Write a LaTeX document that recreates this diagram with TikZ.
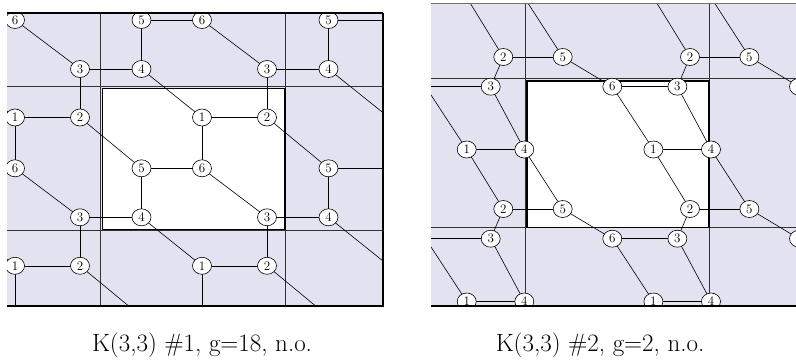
\documentclass[tikz,border=0pt]{standalone}
\usetikzlibrary{shapes.geometric}
\definecolor{lav}{RGB}{226,226,240}
\begin{document}
\begin{tikzpicture}[x=1pt,y=-1pt,
  vx/.style={ellipse,draw=black,fill=white,line width=0.6pt,minimum width=19pt,minimum height=17pt,inner sep=0pt,font=\fontsize{13}{13}\selectfont},
  kedge/.style={draw=black,line width=0.6pt},
  gridln/.style={draw=black!80,line width=0.7pt},
  fdom/.style={draw=black,line width=1.3pt},
  captxt/.style={font=\fontsize{25}{30}\selectfont,inner sep=0pt,anchor=base}]
\useasboundingbox (0,0) rectangle (796,362);

% ---------------- left panel ----------------
\fill[lav] (7,12.7) rectangle (383,306);
\fill[white] (102.5,88.5) rectangle (285,230);
\draw[gridln] (7,86.7) -- (383,86.7);
\draw[gridln] (7,230) -- (383,230);
\draw[gridln] (100.7,12.7) -- (100.7,306);
\draw[gridln] (285,12.7) -- (285,306);
\draw[fdom] (102.5,88.5) rectangle (285,229.5);

\foreach \i in {0,...,3}{\foreach \j in {0,...,3}{
  \pgfmathsetmacro\ox{15+187*(\i-1)}
  \pgfmathsetmacro\oy{20+148.3*(\j-1)}
  \coordinate (L\i\j6) at (\ox,\oy);
  \coordinate (L\i\j5) at (\ox+126.5,\oy);
  \coordinate (L\i\j3) at (\ox+65,\oy+49);
  \coordinate (L\i\j4) at (\ox+126.5,\oy+49);
  \coordinate (L\i\j1) at (\ox,\oy+97.5);
  \coordinate (L\i\j2) at (\ox+65,\oy+97.5);
}}

\begin{scope}
\clip (7,12.7) rectangle (383,306);
\foreach \i/\ni in {0/1,1/2,2/3}{\foreach \j/\nj in {0/1,1/2,2/3}{
  \draw[kedge] (L\i\j6) -- (L\i\j3);
  \draw[kedge] (L\i\j5) -- (L\ni\j6);
  \draw[kedge] (L\i\j5) -- (L\i\j4);
  \draw[kedge] (L\i\j3) -- (L\i\j4);
  \draw[kedge] (L\i\j3) -- (L\i\j2);
  \draw[kedge] (L\i\j1) -- (L\i\j2);
  \draw[kedge] (L\i\j1) -- (L\i\nj6);
  \draw[kedge] (L\i\j2) -- (L\i\nj5);
  \draw[kedge] (L\i\j4) -- (L\ni\j1);
}}
\foreach \i in {1,2}{\foreach \j in {1,2}{
  \foreach \k in {1,...,6}{\node[vx] (nL\i\j\k) at (L\i\j\k) {\k};}
}}
\end{scope}
\draw[line width=1.6pt] (7,12.7) -- (383,12.7);
\draw[line width=1.1pt] (383,12.7) -- (383,306) -- (7,306);

% ---------------- right panel ----------------
\fill[lav] (431,3.3) rectangle (796,306);
\fill[white] (527,81) rectangle (709,227.5);
\draw[gridln] (431,78.7) -- (796,78.7);
\draw[gridln] (431,227.7) -- (796,227.7);
\draw[gridln] (525.3,3.3) -- (525.3,306);
\draw[gridln] (709,3.3) -- (709,306);
\draw[fdom] (527,81) rectangle (709,227.5);

\foreach \i in {0,...,3}{\foreach \j in {0,...,3}{
  \pgfmathsetmacro\ox{503.3+186.7*(\i-1)}
  \pgfmathsetmacro\oy{57+152*(\j-1)}
  \coordinate (R\i\j2) at (\ox,\oy);
  \coordinate (R\i\j5) at (\ox+59.4,\oy);
  \coordinate (R\i\j3) at (\ox-12.6,\oy+29.7);
  \coordinate (R\i\j6) at (\ox+109,\oy+29.7);
  \coordinate (R\i\j1) at (\ox-36.6,\oy+92.5);
  \coordinate (R\i\j4) at (\ox+21,\oy+92.5);
}}

\begin{scope}
\clip (431,3.3) rectangle (796,306);
\foreach \i/\ni in {0/1,1/2,2/3}{\foreach \j/\nj in {0/1,1/2,2/3}{
  \draw[kedge] (R\i\j2) -- (R\i\j5);
  \draw[kedge] (R\i\j2) -- (R\i\j3);
  \draw[kedge] (R\i\j5) -- (R\i\j6);
  \draw[kedge] (R\i\j6) -- (R\ni\j3);
  \draw[kedge] (R\i\j3) -- (R\i\j4);
  \draw[kedge] (R\i\j1) -- (R\i\j4);
  \draw[kedge] (R\i\j6) -- (R\ni\j1);
  \draw[kedge] (R\i\j1) -- (R\i\nj2);
  \draw[kedge] (R\i\j4) -- (R\i\nj5);
}}
\foreach \i in {1,2}{\foreach \j in {1,2}{
  \foreach \k in {1,...,6}{\node[vx] (nR\i\j\k) at (R\i\j\k) {\k};}
}}
\end{scope}
\draw[black!55,line width=0.6pt] (431,3.3) -- (796,3.3);
\draw[line width=1.4pt] (431,306) -- (796,306);

% ---------------- captions ----------------
\node[captxt] (c1) at (202,351) {K(3,3) \#1, g=18, n.o.};
\node[captxt] (c2) at (600,351) {K(3,3) \#2, g=2, n.o.};
\end{tikzpicture}
\end{document}
